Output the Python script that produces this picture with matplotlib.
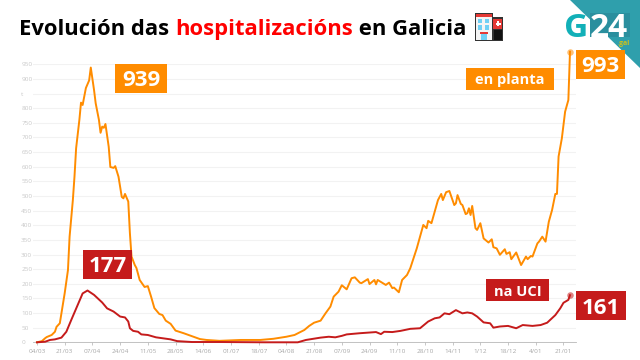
import matplotlib
matplotlib.use("Agg")
import matplotlib.pyplot as plt
from matplotlib.patches import Rectangle, Polygon

# days since 04/03 and values, line by line
planta_days = [0, 3, 5, 6, 9, 11, 12, 14, 16, 17,
               19, 20, 22, 23, 24, 26, 27, 28, 30, 32,
               33, 35, 36, 38, 39, 40, 41, 42, 44, 45,
               47, 48, 50, 52, 53, 54, 56, 57, 58, 60,
               61, 63, 66, 68, 70, 72, 75, 77, 79, 82,
               85, 90, 94, 100, 104, 112, 125, 137, 145, 153,
               158, 164, 167, 170, 174, 177, 180, 182, 185, 187,
               190, 193, 195, 198, 199, 203, 204, 207, 208, 209,
               214, 216, 218, 219, 222, 224, 227, 229, 233, 235,
               237, 239, 240, 242, 244, 246, 248, 249, 251, 253,
               256, 257, 258, 260, 261, 263, 264, 265, 266, 267,
               269, 270, 272, 274, 277, 279, 280, 282, 284, 287,
               288, 290, 291, 294, 297, 300, 301, 303, 304, 307,
               308, 310, 312, 314, 316, 318, 319, 320, 322, 324,
               326, 327]
planta_vals = [0, 4, 14, 18, 25, 36, 53, 65, 134, 168,
               247, 361, 486, 566, 663, 760, 819, 811, 869, 895,
               939, 862, 817, 760, 716, 737, 733, 746, 668, 599,
               596, 602, 566, 497, 492, 507, 481, 373, 293, 264,
               254, 213, 189, 192, 156, 117, 97, 93, 74, 63,
               40, 31, 23, 11, 8, 5, 8, 8, 12, 19,
               25, 42, 56, 67, 74, 99, 122, 156, 173, 195,
               181, 219, 222, 204, 202, 216, 199, 213, 198, 213,
               196, 204, 185, 187, 171, 213, 230, 253, 321, 361,
               401, 390, 415, 407, 446, 486, 507, 486, 513, 517,
               469, 475, 503, 473, 469, 438, 441, 458, 435, 466,
               390, 384, 407, 355, 341, 352, 325, 321, 299, 318,
               302, 308, 284, 307, 264, 293, 284, 295, 293, 338,
               344, 361, 344, 412, 452, 507, 507, 635, 697, 788,
               828, 993]
uci_days = [0, 5, 8, 11, 15, 18, 21, 25, 28, 31,
            35, 40, 43, 47, 51, 54, 56, 57, 59, 62,
            64, 68, 73, 82, 86, 95, 112, 140, 160, 165,
            174, 179, 183, 187, 190, 198, 208, 211, 213, 218,
            223, 229, 235, 240, 244, 247, 250, 253, 257, 261,
            264, 267, 270, 274, 278, 280, 284, 289, 294, 298,
            304, 309, 313, 318, 321, 323, 326, 327]
uci_vals = [0, 2, 8, 10, 16, 36, 76, 128, 167, 177,
            162, 136, 116, 105, 88, 85, 71, 48, 39, 36,
            27, 25, 17, 10, 4, 1, 1, 0, 0, 8,
            16, 19, 17, 22, 27, 31, 35, 28, 36, 35,
            39, 46, 48, 71, 82, 85, 99, 96, 110, 99,
            102, 99, 88, 68, 65, 50, 54, 56, 48, 59,
            56, 59, 67, 93, 116, 135, 145, 161]

tick_days = [0, 17, 34, 51, 68, 85, 102, 119, 136, 153, 170, 187, 204, 221, 238, 255, 272, 289, 306, 323]
tick_labels = ["04/03", "21/03", "07/04", "24/04", "11/05", "28/05", "14/06", "01/07", "18/07", "04/08", "21/08", "07/09", "24/09", "11/10", "28/10", "14/11", "1/12", "18/12", "4/01", "21/01"]
y_ticks = list(range(0, 1000, 50))
y_labels = [str(v) for v in y_ticks]
y_labels[17] = "t"

ORANGE = "#ff8c00"
RED = "#c51b1b"

plt.rcParams["font.family"] = "Open Sans"
fig = plt.figure(figsize=(6.4, 3.6), dpi=100, facecolor="white")

# chart area, placed in pixels
left, right, top, bottom = 33, 575.7, 64.3, 342.3
ax = fig.add_axes([left / 640, 1 - bottom / 360, (right - left) / 640, (bottom - top) / 360])
ax.plot(planta_days, planta_vals, color=ORANGE, lw=1.4, solid_joinstyle="round", clip_on=False, zorder=3)
ax.plot(uci_days, uci_vals, color=RED, lw=1.4, solid_joinstyle="round", clip_on=False, zorder=4)
ax.scatter(planta_days[-1], planta_vals[-1], s=22, color=ORANGE, alpha=0.55, lw=0, clip_on=False, zorder=5)
ax.scatter(uci_days[-1], uci_vals[-1], s=22, color=RED, alpha=0.55, lw=0, clip_on=False, zorder=5)
ax.set_xlim(-2.45, 330.5)
ax.set_ylim(0, 950)
ax.set_xticks(tick_days)
ax.set_xticklabels(tick_labels, fontsize=4.6, color="#a8a8a8")
ax.set_yticks(y_ticks)
ax.set_yticklabels(y_labels, fontsize=4.6, color="#c8c8c8", ha="left")
ax.tick_params(axis="x", length=2, width=0.5, color="#b0b0b0", pad=2.5)
ax.tick_params(axis="y", length=0, pad=8.5)
ax.grid(axis="y", color="#f2f2f2", lw=0.8)
ax.set_axisbelow(True)
for name in ["top", "right", "left"]:
    ax.spines[name].set_visible(False)
ax.spines["bottom"].set_color("#b8b8b8")
ax.spines["bottom"].set_linewidth(0.6)

# overlay in pixel coordinates for title, boxes and logo
ov = fig.add_axes([0, 0, 1, 1], facecolor="none")
ov.set_xlim(0, 640)
ov.set_ylim(360, 0)
ov.axis("off")

# title is three coloured pieces, one after the other
renderer = fig.canvas.get_renderer()
title_x = 19
for piece, col in [("Evolución das ", "black"), ("hospitalizacións", "#ff0000"), (" en Galicia", "black")]:
    t = ov.text(title_x, 27, piece, fontsize=15.8, fontweight="bold", color=col, va="center_baseline", ha="left")
    title_x += t.get_window_extent(renderer).width

# labelled boxes
boxes = [
    (115, 64, 167, 93, "939", ORANGE, 16),
    (83, 250, 132, 279, "177", RED, 16),
    (575.7, 50, 625, 79, "993", ORANGE, 16),
    (576, 291, 626, 320, "161", RED, 16),
    (466, 68, 554, 89.5, "en planta", ORANGE, 10.5),
    (486, 279, 549, 301, "na UCI", RED, 10.5),
]
for x0, y0, x1, y1, label, col, size in boxes:
    ov.add_patch(Rectangle((x0, y0), x1 - x0, y1 - y0, color=col, lw=0, zorder=6))
    ov.text((x0 + x1) / 2, (y0 + y1) / 2, label, color="white", fontsize=size, fontweight="bold",
            ha="center", va="center_baseline", zorder=7)

# G24 logo
ov.add_patch(Polygon([(570, 0), (640, 0), (640, 68)], color="#2f9fac", lw=0, zorder=2))
ov.add_patch(Rectangle((590, 13), 40, 24, color="#2a8f9e", lw=0, zorder=2))
ov.text(576, 37, "G", color="#12b0b8", fontsize=24, fontweight="bold", ha="center", va="baseline", zorder=3)
ov.text(609, 37, "24", color="white", fontsize=24, fontweight="bold", ha="center", va="baseline", zorder=3)
ov.text(624, 45, ".gal", color="#c9c020", fontsize=5, fontweight="bold", ha="center", va="baseline", zorder=3)

# hospital icon
icon = [
    (492, 17, 11, 23.5, "#333333"), (493, 19, 9, 10, "#e53935"), (493.5, 30, 8.5, 9.5, "#111111"),
    (475, 12.7, 17.5, 28, "#333333"), (476, 14, 15.5, 3, "#e53935"), (476, 17, 15.5, 22.5, "#f4f4f4"),
    (477.5, 18.5, 4.5, 4.5, "#6fd0f5"), (484.5, 18.5, 4.5, 4.5, "#6fd0f5"),
    (477.5, 25, 4.5, 4.5, "#6fd0f5"), (484.5, 25, 4.5, 4.5, "#6fd0f5"),
    (480, 32, 8, 1.5, "#e53935"), (481, 33.5, 6, 6, "#6fd0f5"),
    (495.5, 23, 5, 1.5, "white"), (497.3, 21.2, 1.5, 5, "white"),
]
for x0, y0, w, h, col in icon:
    ov.add_patch(Rectangle((x0, y0), w, h, color=col, lw=0, zorder=3))

fig.savefig("out.png", dpi=100)
